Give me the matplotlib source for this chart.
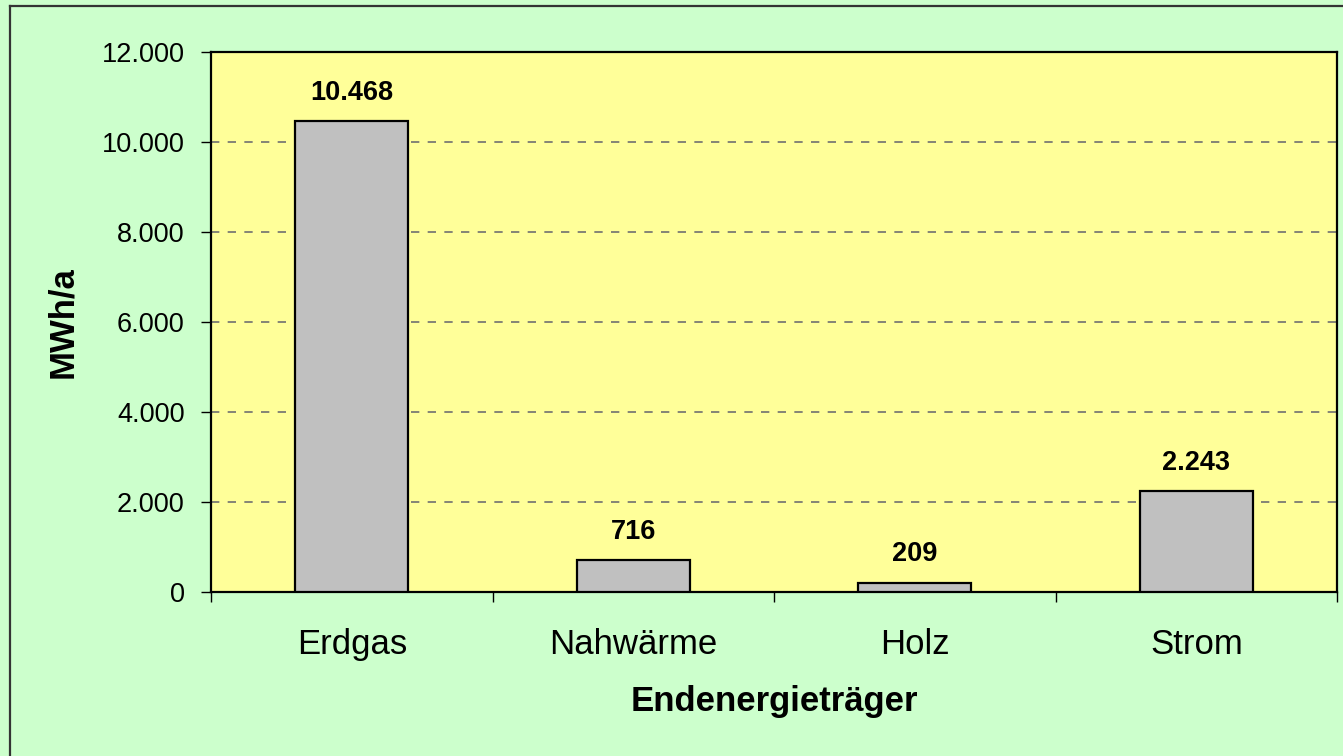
import matplotlib
matplotlib.use('Agg')
import matplotlib.pyplot as plt
from matplotlib.lines import Line2D
from matplotlib.ticker import FuncFormatter

categories = ['Erdgas', 'Nahwärme', 'Holz', 'Strom']
values = [10468, 716, 209, 2243]
yticks = [0, 2000, 4000, 6000, 8000, 10000, 12000]

plt.rcParams['font.family'] = ['Liberation Sans', 'DejaVu Sans']


def de_fmt(v, pos=None):
    return f'{int(round(v)):,}'.replace(',', '.')


W, H = 1343, 756
fig = plt.figure(figsize=(W / 100, H / 100), dpi=100, facecolor='#CCFFCC')
ax = fig.add_axes([211 / W, 1 - 592 / H, 1126 / W, 540 / H])
ax.set_facecolor('#FFFF99')

x = range(len(categories))
ax.bar(x, values, width=0.4, color='#C0C0C0', edgecolor='black', linewidth=1.6, zorder=3)
for i, v in enumerate(values):
    ax.annotate(de_fmt(v), (i, v), xytext=(0, 11), textcoords='offset points',
                ha='center', va='bottom', fontsize=19.5, fontweight='bold')

ax.set_xlim(-0.5, len(categories) - 0.5)
ax.set_ylim(0, 12000)
ax.set_yticks(yticks)
ax.yaxis.set_major_formatter(FuncFormatter(de_fmt))
ax.yaxis.grid(True, linestyle=(0, (5, 5)), color='#707070', linewidth=1.2, zorder=0)

# category boundaries get the ticks, names sit between them
ax.set_xticks([i + 0.5 for i in range(-1, len(categories))])
ax.set_xticklabels([])
ax.set_xticks(list(x), minor=True)
ax.set_xticklabels(categories, minor=True)
ax.tick_params(axis='x', which='major', length=7, width=1, direction='out')
ax.tick_params(axis='x', which='minor', length=0, pad=26, labelsize=25)
ax.tick_params(axis='y', length=7, width=1, direction='out', labelsize=19.5, pad=12)

for s in ax.spines.values():
    s.set_linewidth(1.6)
    s.set_color('black')

ax.set_xlabel('Endenergieträger', fontsize=25, fontweight='bold')
ax.xaxis.set_label_coords(0.5, (592 - 702) / 540)
ax.xaxis.label.set_va('center')
ax.set_ylabel('MWh/a', fontsize=25, fontweight='bold')
ax.yaxis.set_label_coords((63 - 211) / 1126, 0.5)
ax.yaxis.label.set_va('center')

# chart border (only the left and top edges show in the crop)
fig.add_artist(Line2D([9.5 / W, 9.5 / W], [0, 1 - 6 / H], transform=fig.transFigure,
                      color='#333333', linewidth=1.6))
fig.add_artist(Line2D([9.5 / W, 1], [1 - 6 / H, 1 - 6 / H], transform=fig.transFigure,
                      color='#333333', linewidth=1.6))

fig.savefig('out.png', dpi=100, facecolor=fig.get_facecolor())
